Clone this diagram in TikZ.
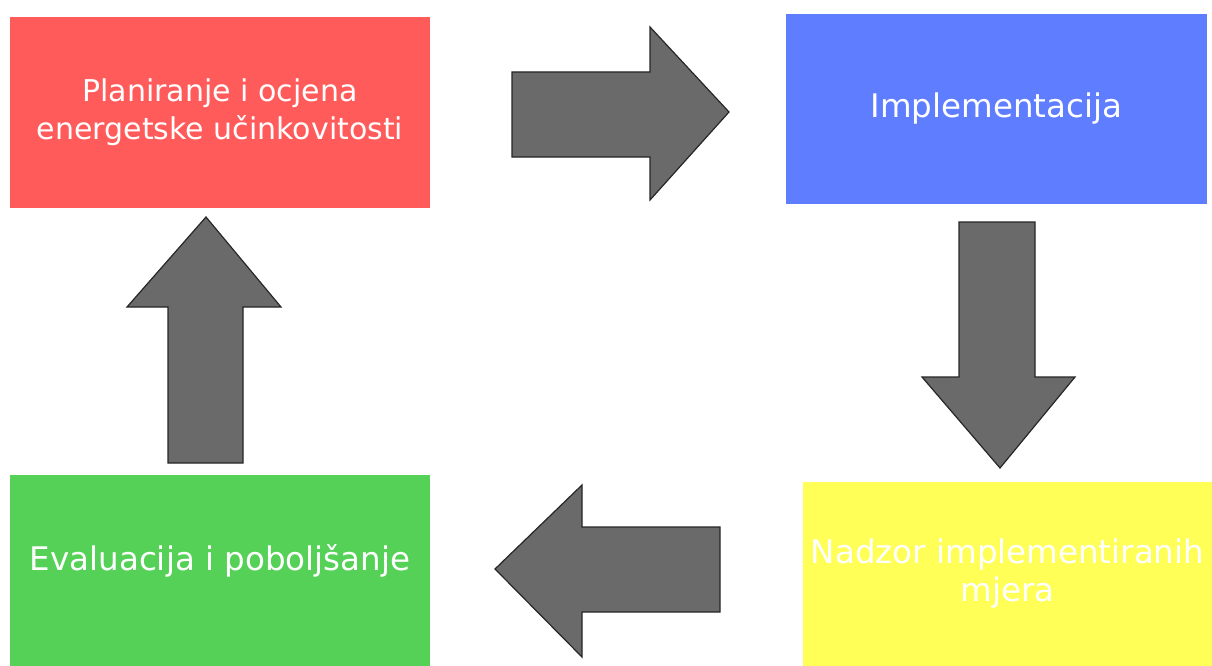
\documentclass[tikz,border=0pt]{standalone}
\usepackage{fontspec}
\usepackage{xcolor}
\setmainfont{DejaVu Sans}
\usetikzlibrary{positioning}

\definecolor{planred}{HTML}{FF5B5B}
\definecolor{implblue}{HTML}{5F7DFF}
\definecolor{nadzyellow}{HTML}{FFFF58}
\definecolor{evalgreen}{HTML}{56D158}
\definecolor{arrowgray}{HTML}{6A6A6A}

\begin{document}
\begin{tikzpicture}[x=1pt, y=-1pt,
    phase/.style={rectangle, inner sep=0pt, text=white, align=center,
                  font=\fontsize{32.5}{38}\selectfont},
    blockarrow/.style={fill=arrowgray, draw=black!85, line width=1.2pt, line join=miter}]
  \useasboundingbox (0,0) rectangle (1212,666);

  \node[phase, fill=planred, minimum width=420pt, minimum height=191pt,
        font=\fontsize{30}{38}\selectfont]   (plan)   at (220,112.5)
        {Planiranje i ocjena\\energetske učinkovitosti};
  \node[phase, fill=implblue, minimum width=421pt, minimum height=190pt]    (impl)   at (996.5,109)
        {Implementacija};
  \node[phase, fill=nadzyellow, minimum width=409pt, minimum height=184pt]  (nadzor) at (1007.5,574)
        {Nadzor implementiranih\\mjera};
  \node[phase, fill=evalgreen, minimum width=420pt, minimum height=191pt,
        text height=24.5pt, text depth=24.5pt]                              (eval)   at (220,570.5)
        {Evaluacija i poboljšanje};

  % block arrows between the phases
  \draw[blockarrow] (512,72) -- (650,72) -- (650,27) -- (729,112)
                    -- (650,200) -- (650,157) -- (512,157) -- cycle;
  \draw[blockarrow] (959,222) -- (1035,222) -- (1035,377) -- (1075,377)
                    -- (1000,468) -- (922,377) -- (959,377) -- cycle;
  \draw[blockarrow] (720,527) -- (582,527) -- (582,485) -- (495,569)
                    -- (582,657) -- (582,612) -- (720,612) -- cycle;
  \draw[blockarrow] (168,463) -- (168,307) -- (127,307) -- (206,217)
                    -- (281,307) -- (243,307) -- (243,463) -- cycle;
\end{tikzpicture}
\end{document}
